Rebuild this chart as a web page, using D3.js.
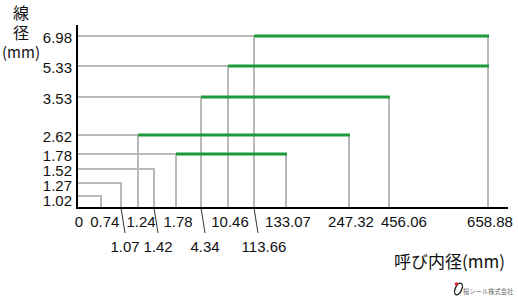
<!DOCTYPE html>
<html>
<head>
<meta charset="utf-8" />
<title>O-ring size range</title>
<style>
body { margin: 0; background: #fff; }
#graph { width: 518px; height: 302px; }
text { font-family: "Liberation Sans", Arial, sans-serif; fill: #111; }
.jp { font-family: "Noto Sans CJK JP", sans-serif; }
</style>
</head>
<body>
<div id="graph"></div>

<script src="https://d3js.org/d3.v7.min.js"></script>
<script>
// cross-section (wire diameter, mm) and the nominal inner diameter range for each
var wireDia = [1.02, 1.27, 1.52, 1.78, 2.62, 3.53, 5.33, 6.98];
var idMin   = [0.74, 1.07, 1.42, 1.78, 1.24, 4.34, 10.46, 113.66];
var idMax   = [0.74, 1.07, 1.42, 133.07, 247.32, 456.06, 658.88, 658.88];

// x tick labels, first row and staggered second row
var xTicksTop    = [0, 0.74, 1.24, 1.78, 10.46, 133.07, 247.32, 456.06, 658.88];
var xTicksBottom = [1.07, 1.42, 4.34, 113.66];

var yTitle = ["線", "径", "(mm)"];
var xTitle = "呼び内径(mm)";
var company = "桜シール株式会社";

!(function(){
    "use strict"
    var width = 518, height = 302;
    var svg = d3.select("#graph").append("svg")
        .attr("width", width).attr("height", height);

    var guideLayer = svg.append("g");
    var rangeLayer = svg.append("g");
    var axisLayer = svg.append("g");

    var origin = {x: 77, y: 208};
    var xScale, yScale;

    var rows = wireDia.map(function(d, i){
        return {dia: d, lo: idMin[i], hi: idMax[i]};
    });

    main();

    function main() {
        setSize()
        drawChart()
        drawAxis()
        drawTitles()
    }

    function setSize() {
        // the chart is schematic: values sit on hand spaced stops, not a linear scale
        var xDomain = xTicksTop.concat(xTicksBottom).sort(d3.ascending);
        var xStops = [0, 24, 44, 61, 77, 99, 124, 151, 177, 209, 272, 312, 411];
        xScale = d3.scaleLinear()
            .domain(xDomain)
            .range(xStops.map(function(s){ return origin.x + s }));

        var yStops = [12, 25, 39, 54, 73, 111, 142, 172];
        yScale = d3.scaleLinear()
            .domain(wireDia)
            .range(yStops.map(function(s){ return origin.y - s }));
    }

    function drawChart() {
        // grey guides: from the y axis across to the start, then down, plus the drop from the end
        guideLayer.selectAll(".guide")
            .data(rows)
            .enter().append("path")
            .attr("class", "guide")
            .attr("fill", "none")
            .attr("stroke", "#b9b9b9")
            .attr("stroke-width", 2)
            .attr("d", function(d){
                var y = yScale(d.dia);
                var p = "M" + origin.x + "," + y + "H" + xScale(d.lo) + "V" + origin.y;
                if (d.hi > d.lo) p += "M" + xScale(d.hi) + "," + y + "V" + origin.y;
                return p;
            });

        rangeLayer.selectAll(".range")
            .data(rows.filter(function(d){ return d.hi > d.lo }))
            .enter().append("line")
            .attr("class", "range")
            .attr("x1", function(d){ return xScale(d.lo) })
            .attr("x2", function(d){ return xScale(d.hi) + 1 })
            .attr("y1", function(d){ return yScale(d.dia) })
            .attr("y2", function(d){ return yScale(d.dia) })
            .attr("stroke", "#1c9a3c")
            .attr("stroke-width", 3);
    }

    function drawAxis() {
        // y labels, pushed apart where the rows crowd together
        var ly = wireDia.slice().reverse().map(function(d){ return {v: d, y: yScale(d) + 1.5} });
        for (var i = 1; i < ly.length; i++) {
            if (ly[i].y - ly[i-1].y < 15) ly[i].y = ly[i-1].y + 15;
        }
        axisLayer.selectAll(".ylab")
            .data(ly)
            .enter().append("text")
            .attr("class", "ylab")
            .attr("x", origin.x - 5)
            .attr("y", function(d){ return d.y + 5.5 })
            .attr("text-anchor", "end")
            .style("font-size", "15px")
            .text(function(d){ return d3.format(".2f")(d.v) });

        // first row of x labels, shifted right when they would touch
        var top = axisLayer.selectAll(".xlab")
            .data(xTicksTop)
            .enter().append("text")
            .attr("class", "xlab")
            .attr("x", function(d){ return xScale(d) + 2 })
            .attr("y", origin.y + 19)
            .attr("text-anchor", "middle")
            .style("font-size", "15px")
            .text(function(d){ return d === 0 ? "0" : d3.format(".2f")(d) });
        var lastRight = -Infinity;
        top.each(function(){
            var b = this.getBBox();
            if (b.x < lastRight + 7) {
                d3.select(this).attr("x", +d3.select(this).attr("x") + (lastRight + 7 - b.x));
                b = this.getBBox();
            }
            lastRight = b.x + b.width;
        });

        // second row with slanted leaders
        axisLayer.selectAll(".leader")
            .data(xTicksBottom)
            .enter().append("line")
            .attr("class", "leader")
            .attr("x1", function(d){ return xScale(d) })
            .attr("y1", origin.y)
            .attr("x2", function(d){ return xScale(d) + 4 })
            .attr("y2", origin.y + 25)
            .attr("stroke", "#333")
            .attr("stroke-width", 1);

        axisLayer.selectAll(".xlab2")
            .data(xTicksBottom)
            .enter().append("text")
            .attr("class", "xlab2")
            .attr("x", function(d){ return xScale(d) + (d > 100 ? 10 : 4) })
            .attr("y", origin.y + 44)
            .attr("text-anchor", "middle")
            .style("font-size", "15px")
            .text(function(d){ return d3.format(".2f")(d) });

        axisLayer.append("line")
            .attr("x1", origin.x).attr("x2", origin.x)
            .attr("y1", 25).attr("y2", origin.y + 1)
            .attr("stroke", "#000").attr("stroke-width", 2);
        axisLayer.append("line")
            .attr("x1", origin.x - 1).attr("x2", 508)
            .attr("y1", origin.y).attr("y2", origin.y)
            .attr("stroke", "#000").attr("stroke-width", 2);
    }

    function drawTitles() {
        svg.selectAll(".ytitle")
            .data(yTitle)
            .enter().append("text")
            .attr("class", "ytitle jp")
            .attr("x", 21)
            .attr("y", function(d, i){ return [19, 39, 58][i] })
            .attr("text-anchor", "middle")
            .style("font-size", function(d, i){ return i < 2 ? "16px" : "15px" })
            .text(function(d){ return d });

        svg.append("text")
            .attr("class", "jp")
            .attr("x", 505)
            .attr("y", 268)
            .attr("text-anchor", "end")
            .style("font-size", "17px")
            .text(xTitle);

        // small company mark at the bottom right
        var logo = svg.append("g").attr("transform", "translate(458.5,289)");
        logo.append("ellipse")
            .attr("rx", 3.2).attr("ry", 6.2)
            .attr("transform", "rotate(25)")
            .attr("fill", "none").attr("stroke", "#222").attr("stroke-width", 1.4);
        logo.append("circle")
            .attr("cx", -2).attr("cy", -5).attr("r", 1.8)
            .attr("fill", "#d8262e");
        svg.append("text")
            .attr("class", "jp")
            .attr("x", 463)
            .attr("y", 294)
            .style("font-size", "6.3px")
            .style("fill", "#666")
            .text(company);
    }
}());
</script>
</body>
</html>
